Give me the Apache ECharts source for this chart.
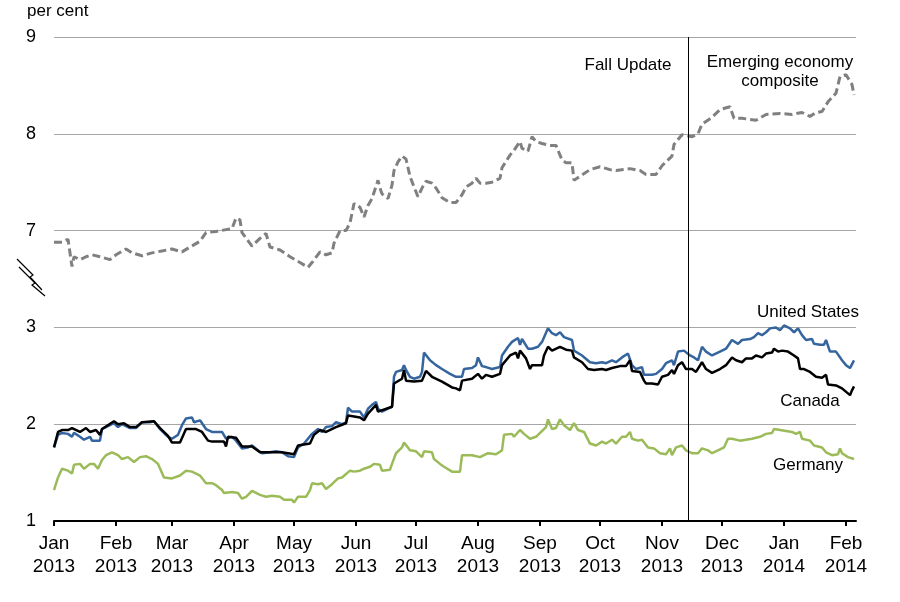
<!DOCTYPE html>
<html><head><meta charset="utf-8">
<script src="https://cdn.jsdelivr.net/npm/echarts@6/dist/echarts.min.js"></script>
<style>html,body{margin:0;padding:0;background:#fff}#c{width:900px;height:602px}</style>
</head><body><div id="c"></div>
<script>
// ---- Data (per cent) ----
const monthNames = ['Jan','Feb','Mar','Apr','May','Jun','Jul','Aug','Sep','Oct','Nov','Dec'];
const axisStart = '2013-01-01';
const axisEnd = '2014-02-06';
const fallUpdateDate = '2013-11-14';
const yTickLabels = [1, 2, 3, 7, 8, 9];   // broken axis: 3 -> 7
const breakShift = 3;                    // values above the break are drawn 3 units lower

const usDates = ['2013-01-01','2013-01-03','2013-01-05','2013-01-08','2013-01-10','2013-01-11','2013-01-14','2013-01-16','2013-01-19','2013-01-20','2013-01-24','2013-01-25','2013-01-29','2013-01-31','2013-02-02','2013-02-04','2013-02-08','2013-02-11','2013-02-14','2013-02-18','2013-02-20','2013-02-23','2013-02-27','2013-03-01','2013-03-04','2013-03-06','2013-03-08','2013-03-11','2013-03-12','2013-03-15','2013-03-18','2013-03-21','2013-03-26','2013-03-28','2013-03-31','2013-04-02','2013-04-05','2013-04-08','2013-04-10','2013-04-13','2013-04-15','2013-04-19','2013-04-22','2013-04-25','2013-04-28','2013-05-01','2013-05-03','2013-05-06','2013-05-10','2013-05-13','2013-05-15','2013-05-17','2013-05-20','2013-05-22','2013-05-25','2013-05-27','2013-05-28','2013-05-30','2013-06-03','2013-06-05','2013-06-07','2013-06-09','2013-06-11','2013-06-12','2013-06-14','2013-06-17','2013-06-19','2013-06-20','2013-06-21','2013-06-24','2013-06-25','2013-06-26','2013-06-28','2013-06-30','2013-07-03','2013-07-04','2013-07-05','2013-07-08','2013-07-11','2013-07-14','2013-07-18','2013-07-21','2013-07-24','2013-07-25','2013-07-29','2013-07-31','2013-08-01','2013-08-03','2013-08-05','2013-08-08','2013-08-12','2013-08-13','2013-08-16','2013-08-18','2013-08-21','2013-08-22','2013-08-23','2013-08-26','2013-08-28','2013-08-31','2013-09-02','2013-09-05','2013-09-07','2013-09-09','2013-09-11','2013-09-13','2013-09-17','2013-09-18','2013-09-22','2013-09-26','2013-09-29','2013-10-02','2013-10-04','2013-10-07','2013-10-09','2013-10-12','2013-10-15','2013-10-17','2013-10-19','2013-10-22','2013-10-23','2013-10-27','2013-10-29','2013-11-01','2013-11-03','2013-11-06','2013-11-07','2013-11-09','2013-11-12','2013-11-15','2013-11-17','2013-11-19','2013-11-21','2013-11-23','2013-11-26','2013-11-30','2013-12-03','2013-12-06','2013-12-09','2013-12-11','2013-12-15','2013-12-17','2013-12-19','2013-12-21','2013-12-23','2013-12-25','2013-12-28','2013-12-30','2014-01-01','2014-01-04','2014-01-06','2014-01-08','2014-01-10','2014-01-12','2014-01-15','2014-01-16','2014-01-19','2014-01-21','2014-01-22','2014-01-24','2014-01-27','2014-01-30','2014-02-01','2014-02-03','2014-02-05'];
const usValues = [1.76,1.89,1.91,1.90,1.87,1.91,1.87,1.84,1.87,1.83,1.83,1.95,1.99,2.01,1.97,2.00,1.96,1.96,2.02,2.02,2.03,1.95,1.87,1.85,1.89,1.99,2.06,2.07,2.02,2.04,1.95,1.92,1.92,1.85,1.87,1.83,1.75,1.76,1.78,1.73,1.70,1.71,1.72,1.71,1.67,1.66,1.76,1.80,1.90,1.95,1.92,1.97,1.98,2.02,2.00,2.02,2.17,2.13,2.13,2.07,2.16,2.20,2.23,2.16,2.13,2.16,2.18,2.49,2.54,2.56,2.61,2.56,2.49,2.47,2.49,2.54,2.74,2.66,2.61,2.57,2.52,2.49,2.49,2.57,2.58,2.61,2.69,2.60,2.59,2.57,2.59,2.71,2.80,2.85,2.89,2.82,2.88,2.78,2.78,2.80,2.85,2.99,2.94,2.92,2.95,2.90,2.87,2.76,2.71,2.64,2.63,2.64,2.63,2.66,2.64,2.69,2.73,2.61,2.57,2.59,2.51,2.51,2.52,2.57,2.63,2.66,2.61,2.75,2.76,2.71,2.69,2.66,2.80,2.75,2.71,2.75,2.78,2.87,2.83,2.87,2.88,2.90,2.94,2.92,2.95,2.99,3.00,2.97,3.02,2.99,2.95,2.99,2.92,2.87,2.88,2.83,2.82,2.82,2.87,2.75,2.75,2.66,2.61,2.58,2.66];

const canadaDates = ['2013-01-01','2013-01-03','2013-01-05','2013-01-08','2013-01-10','2013-01-14','2013-01-17','2013-01-19','2013-01-22','2013-01-24','2013-01-25','2013-01-31','2013-02-02','2013-02-05','2013-02-08','2013-02-11','2013-02-14','2013-02-20','2013-02-23','2013-02-27','2013-03-01','2013-03-05','2013-03-08','2013-03-13','2013-03-16','2013-03-19','2013-03-21','2013-03-27','2013-03-28','2013-03-29','2013-04-02','2013-04-05','2013-04-10','2013-04-14','2013-04-25','2013-04-28','2013-05-01','2013-05-03','2013-05-09','2013-05-11','2013-05-14','2013-05-17','2013-05-22','2013-05-27','2013-05-28','2013-06-03','2013-06-05','2013-06-07','2013-06-11','2013-06-12','2013-06-19','2013-06-20','2013-06-24','2013-06-25','2013-06-26','2013-06-30','2013-07-04','2013-07-06','2013-07-09','2013-07-14','2013-07-19','2013-07-21','2013-07-23','2013-07-24','2013-07-29','2013-08-01','2013-08-03','2013-08-05','2013-08-08','2013-08-12','2013-08-13','2013-08-17','2013-08-20','2013-08-21','2013-08-22','2013-08-25','2013-08-27','2013-08-28','2013-09-02','2013-09-03','2013-09-05','2013-09-07','2013-09-11','2013-09-14','2013-09-17','2013-09-18','2013-09-22','2013-09-25','2013-09-28','2013-10-02','2013-10-04','2013-10-07','2013-10-11','2013-10-14','2013-10-16','2013-10-17','2013-10-21','2013-10-23','2013-10-24','2013-10-27','2013-10-30','2013-11-01','2013-11-04','2013-11-06','2013-11-07','2013-11-09','2013-11-11','2013-11-13','2013-11-16','2013-11-18','2013-11-21','2013-11-23','2013-11-26','2013-11-30','2013-12-03','2013-12-06','2013-12-08','2013-12-11','2013-12-13','2013-12-16','2013-12-18','2013-12-21','2013-12-23','2013-12-26','2013-12-27','2013-12-29','2013-12-31','2014-01-03','2014-01-06','2014-01-08','2014-01-09','2014-01-11','2014-01-14','2014-01-15','2014-01-17','2014-01-20','2014-01-22','2014-01-23','2014-01-27','2014-01-30','2014-02-03','2014-02-04','2014-02-05'];
const canadaValues = [1.76,1.92,1.94,1.94,1.96,1.92,1.96,1.92,1.94,1.89,1.95,2.03,2.00,2.01,1.97,1.97,2.02,2.03,1.96,1.88,1.81,1.81,1.95,1.95,1.92,1.83,1.82,1.82,1.77,1.87,1.86,1.77,1.77,1.71,1.71,1.70,1.69,1.78,1.80,1.89,1.94,1.92,1.97,2.01,2.09,2.07,2.04,2.11,2.20,2.13,2.18,2.42,2.47,2.56,2.45,2.44,2.45,2.55,2.49,2.44,2.38,2.37,2.35,2.45,2.47,2.52,2.47,2.51,2.49,2.52,2.61,2.71,2.74,2.68,2.76,2.68,2.57,2.61,2.61,2.71,2.80,2.76,2.80,2.77,2.76,2.69,2.64,2.57,2.56,2.57,2.56,2.58,2.60,2.60,2.66,2.55,2.54,2.45,2.42,2.42,2.41,2.49,2.51,2.56,2.52,2.61,2.64,2.57,2.57,2.54,2.64,2.57,2.53,2.57,2.61,2.69,2.66,2.64,2.68,2.68,2.71,2.69,2.73,2.74,2.78,2.75,2.76,2.75,2.71,2.68,2.57,2.57,2.54,2.56,2.49,2.48,2.51,2.41,2.40,2.37,2.30,2.35,2.39];

const germanyDates = ['2013-01-01','2013-01-03','2013-01-05','2013-01-08','2013-01-10','2013-01-11','2013-01-14','2013-01-16','2013-01-19','2013-01-21','2013-01-23','2013-01-25','2013-01-27','2013-01-30','2013-02-02','2013-02-04','2013-02-07','2013-02-10','2013-02-13','2013-02-16','2013-02-19','2013-02-22','2013-02-25','2013-03-01','2013-03-05','2013-03-08','2013-03-11','2013-03-15','2013-03-18','2013-03-21','2013-03-23','2013-03-26','2013-03-27','2013-03-31','2013-04-03','2013-04-05','2013-04-07','2013-04-10','2013-04-14','2013-04-17','2013-04-20','2013-04-24','2013-04-26','2013-04-30','2013-05-01','2013-05-03','2013-05-07','2013-05-09','2013-05-10','2013-05-13','2013-05-15','2013-05-17','2013-05-20','2013-05-23','2013-05-25','2013-05-29','2013-05-31','2013-06-03','2013-06-05','2013-06-08','2013-06-10','2013-06-13','2013-06-14','2013-06-18','2013-06-19','2013-06-21','2013-06-24','2013-06-25','2013-06-27','2013-06-28','2013-07-01','2013-07-04','2013-07-05','2013-07-09','2013-07-10','2013-07-13','2013-07-15','2013-07-19','2013-07-23','2013-07-24','2013-07-29','2013-08-02','2013-08-06','2013-08-10','2013-08-13','2013-08-14','2013-08-18','2013-08-19','2013-08-22','2013-08-24','2013-08-27','2013-08-30','2013-09-04','2013-09-05','2013-09-07','2013-09-09','2013-09-11','2013-09-13','2013-09-16','2013-09-18','2013-09-20','2013-09-23','2013-09-26','2013-09-29','2013-10-02','2013-10-04','2013-10-07','2013-10-09','2013-10-12','2013-10-14','2013-10-16','2013-10-17','2013-10-20','2013-10-22','2013-10-25','2013-10-28','2013-10-31','2013-11-03','2013-11-05','2013-11-06','2013-11-08','2013-11-11','2013-11-13','2013-11-16','2013-11-19','2013-11-21','2013-11-24','2013-11-26','2013-11-29','2013-12-02','2013-12-04','2013-12-06','2013-12-10','2013-12-13','2013-12-16','2013-12-20','2013-12-23','2013-12-26','2013-12-27','2013-12-30','2014-01-02','2014-01-05','2014-01-07','2014-01-09','2014-01-10','2014-01-14','2014-01-16','2014-01-20','2014-01-22','2014-01-25','2014-01-28','2014-01-29','2014-01-30','2014-02-02','2014-02-05'];
const germanyValues = [1.32,1.45,1.54,1.52,1.49,1.58,1.59,1.54,1.59,1.59,1.54,1.63,1.68,1.71,1.68,1.64,1.66,1.61,1.66,1.67,1.64,1.59,1.45,1.44,1.47,1.52,1.51,1.47,1.39,1.39,1.37,1.32,1.29,1.30,1.29,1.23,1.25,1.31,1.27,1.25,1.26,1.25,1.22,1.22,1.19,1.25,1.25,1.32,1.39,1.38,1.39,1.33,1.38,1.44,1.45,1.52,1.51,1.52,1.54,1.56,1.59,1.58,1.52,1.53,1.59,1.70,1.76,1.81,1.76,1.73,1.72,1.66,1.72,1.71,1.64,1.59,1.56,1.51,1.51,1.68,1.68,1.66,1.70,1.69,1.73,1.89,1.90,1.87,1.94,1.90,1.85,1.87,1.97,2.05,1.95,1.96,2.05,1.99,1.94,2.01,1.94,1.92,1.80,1.78,1.82,1.80,1.84,1.80,1.87,1.87,1.92,1.85,1.83,1.84,1.76,1.75,1.70,1.69,1.75,1.68,1.76,1.78,1.73,1.70,1.70,1.75,1.73,1.70,1.73,1.76,1.85,1.85,1.83,1.84,1.85,1.87,1.90,1.91,1.95,1.94,1.93,1.92,1.90,1.92,1.85,1.83,1.78,1.76,1.71,1.68,1.69,1.75,1.70,1.66,1.64];

const emergingDates = ['2013-01-01','2013-01-05','2013-01-08','2013-01-10','2013-01-11','2013-01-14','2013-01-17','2013-01-20','2013-01-24','2013-01-29','2013-02-01','2013-02-06','2013-02-09','2013-02-14','2013-02-19','2013-02-24','2013-03-01','2013-03-06','2013-03-10','2013-03-15','2013-03-18','2013-03-23','2013-03-28','2013-03-31','2013-04-02','2013-04-04','2013-04-05','2013-04-10','2013-04-14','2013-04-17','2013-04-19','2013-04-24','2013-04-29','2013-05-04','2013-05-08','2013-05-10','2013-05-14','2013-05-17','2013-05-20','2013-05-21','2013-05-24','2013-05-27','2013-05-29','2013-05-31','2013-06-03','2013-06-05','2013-06-07','2013-06-09','2013-06-12','2013-06-13','2013-06-14','2013-06-17','2013-06-19','2013-06-20','2013-06-22','2013-06-24','2013-06-26','2013-06-28','2013-06-30','2013-07-02','2013-07-04','2013-07-06','2013-07-09','2013-07-11','2013-07-14','2013-07-18','2013-07-21','2013-07-24','2013-07-26','2013-07-29','2013-07-31','2013-08-02','2013-08-05','2013-08-08','2013-08-12','2013-08-13','2013-08-17','2013-08-19','2013-08-22','2013-08-23','2013-08-26','2013-08-28','2013-08-30','2013-09-02','2013-09-06','2013-09-09','2013-09-12','2013-09-14','2013-09-17','2013-09-18','2013-09-21','2013-09-26','2013-10-01','2013-10-06','2013-10-09','2013-10-16','2013-10-21','2013-10-24','2013-10-29','2013-11-01','2013-11-06','2013-11-07','2013-11-11','2013-11-16','2013-11-19','2013-11-21','2013-11-26','2013-11-30','2013-12-05','2013-12-07','2013-12-11','2013-12-18','2013-12-23','2013-12-30','2014-01-05','2014-01-10','2014-01-14','2014-01-17','2014-01-20','2014-01-23','2014-01-27','2014-01-29','2014-02-01','2014-02-04','2014-02-05'];
const emergingValues = [6.88,6.88,6.91,6.63,6.73,6.70,6.73,6.75,6.73,6.70,6.75,6.81,6.77,6.74,6.77,6.79,6.81,6.78,6.83,6.89,6.98,6.99,7.01,7.02,7.13,7.11,6.98,6.84,6.92,6.97,6.83,6.80,6.73,6.67,6.62,6.67,6.78,6.75,6.77,6.87,7.00,7.00,7.08,7.28,7.24,7.14,7.26,7.33,7.52,7.44,7.38,7.33,7.47,7.62,7.71,7.77,7.74,7.56,7.45,7.35,7.44,7.51,7.49,7.44,7.34,7.29,7.29,7.37,7.45,7.49,7.54,7.49,7.49,7.50,7.54,7.65,7.78,7.83,7.92,7.85,7.82,7.97,7.92,7.90,7.88,7.88,7.73,7.70,7.70,7.52,7.56,7.63,7.66,7.63,7.62,7.64,7.62,7.58,7.58,7.67,7.77,7.89,7.99,7.97,8.00,8.10,8.17,8.25,8.28,8.16,8.16,8.14,8.20,8.21,8.20,8.22,8.18,8.22,8.23,8.33,8.42,8.59,8.61,8.51,8.40];

// ---- Build axis categories (every day) ----
function ymd(t) { return new Date(t).toISOString().slice(0, 10); }
const categories = [];
for (let t = Date.parse(axisStart + 'T00:00:00Z'); t <= Date.parse(axisEnd + 'T00:00:00Z'); t += 86400000) categories.push(ymd(t));

const pairs = (d, v, shift) => d.map((x, i) => [x, +(v[i] - shift).toFixed(4)]);
const FONT = 'Liberation Sans, Arial, sans-serif';
const isMonthStart = (i, v) => v.slice(8) === '01';

const chart = echarts.init(document.getElementById('c'), null, { renderer: 'canvas' });
chart.setOption({
  animation: false,
  backgroundColor: '#fff',
  textStyle: { fontFamily: FONT },
  grid: { left: 54, right: 44, top: 37, bottom: 81, containLabel: false },
  xAxis: {
    type: 'category', data: categories, boundaryGap: false,
    axisLine: { show: true, lineStyle: { color: '#000', width: 2 } },
    axisTick: { show: true, interval: isMonthStart, length: 5, lineStyle: { color: '#000', width: 2 } },
    axisLabel: {
      interval: isMonthStart, margin: 11, color: '#000', fontSize: 19, lineHeight: 23, fontFamily: FONT,
      formatter: v => monthNames[+v.slice(5, 7) - 1] + '\n' + v.slice(0, 4)
    },
    splitLine: { show: false }
  },
  yAxis: {
    type: 'value', min: 1, max: 6, interval: 1,
    axisLine: { show: false }, axisTick: { show: false },
    axisLabel: { color: '#000', fontSize: 18, margin: 18, fontFamily: FONT,
      formatter: v => String(yTickLabels[v - 1]) },
    splitLine: { show: true, lineStyle: { color: '#a6a6a6', width: 1 } }
  },
  series: [
    { name: 'Emerging economy composite', type: 'line', showSymbol: false, symbol: 'none',
      data: pairs(emergingDates, emergingValues, breakShift),
      lineStyle: { color: '#808080', width: 3, type: [8, 4], cap: 'butt' }, z: 3 },
    { name: 'Germany', type: 'line', showSymbol: false, symbol: 'none',
      data: pairs(germanyDates, germanyValues, 0),
      lineStyle: { color: '#9bbb59', width: 2.5 }, z: 3 },
    { name: 'United States', type: 'line', showSymbol: false, symbol: 'none',
      data: pairs(usDates, usValues, 0),
      lineStyle: { color: '#35659e', width: 2.5 }, z: 3 },
    { name: 'Canada', type: 'line', showSymbol: false, symbol: 'none',
      data: pairs(canadaDates, canadaValues, 0),
      lineStyle: { color: '#000', width: 2.5 }, z: 4,
      markLine: { silent: true, symbol: ['none', 'none'], label: { show: false },
        lineStyle: { color: '#000', width: 1, type: 'solid' },
        data: [{ xAxis: fallUpdateDate }] } }
  ],
  graphic: [
    { type: 'text', left: 27, top: 3, style: { text: 'per cent', font: '17px ' + FONT, fill: '#000' } },
    { type: 'text', x: 628, y: 65, style: { text: 'Fall Update', font: '17px ' + FONT, fill: '#000', align: 'center', verticalAlign: 'middle' } },
    { type: 'text', x: 780, y: 62, style: { text: 'Emerging economy', font: '17px ' + FONT, fill: '#000', align: 'center', verticalAlign: 'middle' } },
    { type: 'text', x: 780, y: 81, style: { text: 'composite', font: '17px ' + FONT, fill: '#000', align: 'center', verticalAlign: 'middle' } },
    { type: 'text', x: 808, y: 312, style: { text: 'United States', font: '17px ' + FONT, fill: '#000', align: 'center', verticalAlign: 'middle' } },
    { type: 'text', x: 810, y: 401, style: { text: 'Canada', font: '17px ' + FONT, fill: '#000', align: 'center', verticalAlign: 'middle' } },
    { type: 'text', x: 808, y: 465, style: { text: 'Germany', font: '17px ' + FONT, fill: '#000', align: 'center', verticalAlign: 'middle' } },
    { type: 'polyline', shape: { points: [[17, 259], [33, 275], [30, 277], [42, 290]] }, style: { stroke: '#000', lineWidth: 1.2, fill: null } },
    { type: 'polyline', shape: { points: [[19, 267], [35, 283], [32, 285], [45, 296]] }, style: { stroke: '#000', lineWidth: 1.2, fill: null } }
  ]
});
</script></body></html>
